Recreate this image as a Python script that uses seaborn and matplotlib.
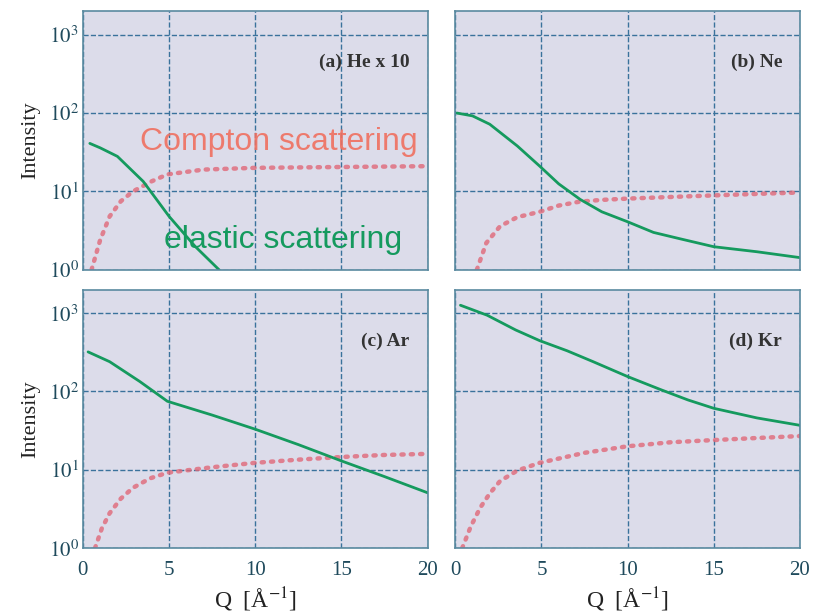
import numpy as np
import pandas as pd
import matplotlib
matplotlib.use('Agg')
import matplotlib.pyplot as plt
import seaborn as sns

# ─── DATA ─────────────────────────────────────────────────────────────────────
he_el_q = [0.4, 1.0, 2.0, 3.5, 5.0, 6.5, 7.9]
he_el_i = [41, 36, 28, 13.4, 4.8, 2.0, 1.0]
he_co_q = [0.5, 1.0, 1.55, 2.2, 2.9, 4.0, 4.9, 7.0, 10, 15, 20]
he_co_i = [1.0, 2.4, 4.8, 7.5, 10.0, 13.5, 16.5, 19.0, 20.0, 20.5, 21.0]

ne_el_q = [0.1, 1.0, 2.0, 3.6, 4.9, 6.0, 7.25, 8.5, 10, 11.5, 13, 15, 17.5, 20]
ne_el_i = [100, 92, 72, 38, 21, 12.5, 7.9, 5.5, 4.1, 3.0, 2.5, 1.97, 1.7, 1.43]
ne_co_q = [1.25, 1.8, 2.6, 3.6, 4.9, 6.0, 7.2, 8.5, 10, 12.5, 15, 17.5, 20]
ne_co_i = [1.0, 2.2, 3.6, 4.7, 5.5, 6.6, 7.4, 7.8, 8.1, 8.5, 8.9, 9.3, 9.7]

ar_el_q = [0.3, 1.55, 3.3, 4.9, 7.5, 10, 12.5, 15, 17.5, 20]
ar_el_i = [320, 240, 134, 75, 50, 33, 21, 13, 8.2, 5.1]
ar_co_q = [0.7, 1.1, 1.55, 2.2, 2.9, 3.9, 4.9, 7.5, 10, 12.5, 15, 17.5, 20]
ar_co_i = [1.0, 1.8, 2.8, 4.3, 5.9, 7.8, 9.2, 10.8, 12.3, 13.5, 14.6, 15.5, 16.0]

kr_el_q = [0.3, 1.85, 3.5, 4.9, 6.5, 8.0, 10, 11.9, 13.5, 15, 17.5, 20]
kr_el_i = [1260, 940, 610, 445, 330, 240, 155, 106, 78, 61, 46, 37]
kr_co_q = [0.4, 0.9, 1.45, 2.0, 2.6, 3.6, 4.9, 7.5, 10, 12.5, 15, 17.5, 20]
kr_co_i = [1.0, 1.9, 3.3, 5.0, 7.2, 9.8, 12.3, 16.5, 20, 22.5, 24, 25.5, 27]

panels = [
    ('(a) He x 10', he_el_q, he_el_i, he_co_q, he_co_i),
    ('(b) Ne', ne_el_q, ne_el_i, ne_co_q, ne_co_i),
    ('(c) Ar', ar_el_q, ar_el_i, ar_co_q, ar_co_i),
    ('(d) Kr', kr_el_q, kr_el_i, kr_co_q, kr_co_i),
]

# ─── STYLE ────────────────────────────────────────────────────────────────────
sns.set_style('darkgrid', {
    'axes.facecolor': '#dcdcea',
    'axes.edgecolor': '#5a8aa0',
    'grid.color': '#3a729c',
    'grid.linestyle': '--',
})
plt.rcParams['font.family'] = ['Liberation Serif', 'DejaVu Serif']
plt.rcParams['mathtext.fontset'] = 'stix'

green = '#159a5e'
pink = '#e06878'
tick_color = '#1f4a5c'

fig = plt.figure(figsize=(8.13, 6.16), dpi=100)
w, h = 0.424, 0.420
positions = [(0.102, 0.562), (0.560, 0.562), (0.102, 0.110), (0.560, 0.110)]

for k, (label, eq, ei, cq, ci) in enumerate(panels):
    ax = fig.add_axes([positions[k][0], positions[k][1], w, h])
    el = pd.DataFrame({'Q': eq, 'I': ei})
    co = pd.DataFrame({'Q': cq, 'I': ci})
    sns.lineplot(data=co, x='Q', y='I', ax=ax, color=pink, lw=3.2,
                 linestyle=(0, (0.5, 1.6)), dash_capstyle='round', alpha=0.8)
    sns.lineplot(data=el, x='Q', y='I', ax=ax, color=green, lw=2.0)
    ax.set_yscale('log')
    ax.set_xlim(0, 20)
    ax.set_ylim(1, 2000)
    ax.set_xticks([0, 5, 10, 15, 20])
    ax.set_yticks([1, 10, 100, 1000])
    ax.minorticks_off()
    ax.grid(True, linewidth=1.0)
    for s in ax.spines.values():
        s.set_visible(True)
        s.set_linewidth(1.2)
    ax.tick_params(axis='y', length=0, labelsize=15, colors=tick_color, pad=3)
    ax.tick_params(axis='x', length=0, labelsize=15, colors=tick_color, pad=9)
    ax.set_xlabel('')
    ax.set_ylabel('')
    if k % 2 == 0:
        ax.set_yticklabels(['$10^{0}$', '$10^{1}$', '$10^{2}$', '$10^{3}$'])
        ax.set_ylabel('Intensity', fontsize=16, color='#222222', labelpad=6)
    else:
        ax.set_yticklabels([])
    if k >= 2:
        ax.set_xlabel('Q  [Å$^{-1}$]', fontsize=17, color='#222222', labelpad=4)
    else:
        ax.set_xticklabels([])
    ax.text(0.948, 0.80, label, transform=ax.transAxes, ha='right', va='center',
            fontsize=14, fontweight='bold', color='#333333')
    if k == 0:
        ax.text(3.3, 43, 'Compton scattering', fontsize=23, color='#f07060',
                family=['Liberation Sans', 'DejaVu Sans'], va='center', alpha=0.9)
        ax.text(4.7, 2.4, 'elastic scattering', fontsize=23, color=green,
                family=['Liberation Sans', 'DejaVu Sans'], va='center')

fig.savefig('out.png', dpi=100)
